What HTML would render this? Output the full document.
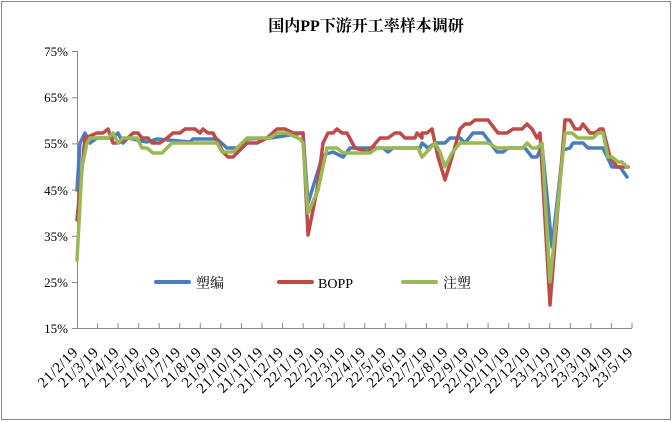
<!DOCTYPE html>
<html><head><meta charset="utf-8"><style>
body{margin:0;background:#fff}
svg{display:block}
text{font-family:"Liberation Serif","Noto Serif CJK SC",serif}
</style></head><body>
<svg width="672" height="422" viewBox="0 0 672 422" xmlns="http://www.w3.org/2000/svg">
<rect x="1.5" y="1.5" width="669" height="418" fill="#fff" stroke="#888" stroke-width="1"/>
<text x="366" y="31" text-anchor="middle" font-size="16" font-weight="bold" font-family="Liberation Sans,Noto Sans CJK SC,sans-serif">国内PP下游开工率样本调研</text>
<g stroke="#888" stroke-width="1" fill="none">
<line x1="77.5" y1="51" x2="77.5" y2="328"/>
<line x1="77" y1="328.5" x2="632" y2="328.5"/>
<path d="M72 51.5H77.5M72 97.7H77.5M72 143.9H77.5M72 190.1H77.5M72 236.3H77.5M72 282.5H77.5M72 328.5H77.5"/>
<g id="tk"></g>
</g>
<g font-size="13" text-anchor="end" fill="#000">
<text x="68" y="56">75%</text><text x="68" y="102">65%</text><text x="68" y="148">55%</text><text x="68" y="195">45%</text><text x="68" y="241">35%</text><text x="68" y="287">25%</text><text x="68" y="333">15%</text>
</g>
<g id="xl" font-size="15" text-anchor="end"></g>
<g fill="none" stroke-width="3.5" stroke-linejoin="round" stroke-linecap="round">
<polyline stroke="#4a7ebb" points="77,190 80,143 85,133 90,143 97,138 113,138 118,133 123,143 128,138 147,142 157,139 190,142 193,139 217,139 227,148 237,148 247,139 270,138 277,137 303,133 308,203 323,155 333,152 343,157 350,148 383,148 388,152 393,148 420,148 422,143 428,148 435,143 445,143 450,138 460,138 465,143 473,133 483,133 497,152 503,152 508,148 525,148 532,157 537,157 542,145 552,247 563,150 570,148 573,143 583,143 588,148 603,148 612,167 620,167 627,177"/>
<polyline stroke="#be4b48" points="77,220 85,138 97,133 103,133 108,129 113,143 118,143 128,138 133,133 138,133 142,138 148,138 152,143 160,143 167,138 173,133 180,133 185,129 195,129 200,133 203,129 208,133 213,133 223,152 228,157 233,157 247,143 257,143 267,138 277,129 285,129 293,133 303,133 308,235 317,190 323,143 328,133 333,133 337,129 342,133 347,133 355,148 368,152 380,138 388,138 395,133 400,133 405,138 415,138 417,133 422,138 422,133 427,133 432,129 438,157 445,180 452,157 460,129 465,124 470,124 475,120 488,120 498,133 507,133 513,129 522,129 527,124 532,129 537,138 540,133 550,305 565,120 570,120 575,129 580,129 583,124 590,133 595,133 600,129 603,129 610,157 617,167 628,167"/>
<polyline stroke="#98b954" points="77,260 82,167 87,143 90,138 108,138 113,133 118,143 123,138 137,138 142,148 147,148 153,153 162,153 172,143 217,143 222,152 233,152 247,138 270,138 277,133 287,133 300,139 303,143 308,213 318,190 327,148 337,148 343,153 370,153 377,148 418,148 422,157 435,143 440,152 445,167 452,153 460,143 488,143 497,148 523,148 527,143 532,148 537,148 542,143 550,282 565,133 572,133 578,138 593,138 598,133 603,133 608,157 612,157 618,162 622,162 627,167"/>
</g>
<g stroke-width="4" stroke-linecap="round">
<line x1="156" y1="282" x2="189" y2="282" stroke="#4a7ebb"/>
<line x1="279" y1="282" x2="312" y2="282" stroke="#be4b48"/>
<line x1="403" y1="282" x2="436" y2="282" stroke="#98b954"/>
</g>
<g font-size="14" fill="#000">
<text x="196" y="288" font-family="Liberation Sans,Noto Sans CJK SC,sans-serif">塑编</text>
<text x="318" y="288">BOPP</text>
<text x="443" y="288" font-family="Liberation Sans,Noto Sans CJK SC,sans-serif">注塑</text>
</g>
<script>
var tk=document.getElementById('tk'),xl=document.getElementById('xl'),ns='http://www.w3.org/2000/svg';
var labs=[];for(var y=21,m=2;labs.length<28;){labs.push(y+'/'+m+'/19');m++;if(m>12){m=1;y++;}}
for(var k=0;k<28;k++){var x=77+k*555/27;
 if(k>0){var l=document.createElementNS(ns,'line');l.setAttribute('x1',x.toFixed(1));l.setAttribute('x2',x.toFixed(1));l.setAttribute('y1',323);l.setAttribute('y2',328);tk.appendChild(l);}
 var t=document.createElementNS(ns,'text');var ax=x+2,ay=353;t.setAttribute('x',ax);t.setAttribute('y',ay);t.setAttribute('transform','rotate(-45 '+ax+' '+ay+')');t.setAttribute('letter-spacing','0.6');t.textContent=labs[k];xl.appendChild(t);}
var l2=document.createElementNS(ns,'line');l2.setAttribute('x1',632);l2.setAttribute('x2',632);l2.setAttribute('y1',323);l2.setAttribute('y2',328);tk.appendChild(l2);
</script>
</svg>
</body></html>
